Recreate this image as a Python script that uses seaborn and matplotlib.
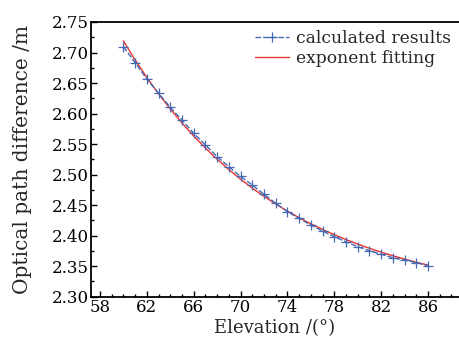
import matplotlib
matplotlib.use("Agg")
import matplotlib.pyplot as plt
import seaborn as sns
import pandas as pd
from matplotlib.ticker import MultipleLocator

elevation = [60, 61, 62, 63, 64, 65, 66, 67, 68, 69, 70, 71, 72, 73, 74, 75, 76, 77,
             78, 79, 80, 81, 82, 83, 84, 85, 86]
calculated = [2.7095, 2.6834, 2.6566, 2.6332, 2.6102, 2.5894, 2.5676, 2.5485, 2.5294,
              2.513, 2.497, 2.483, 2.4677, 2.453, 2.4392, 2.4284, 2.4174, 2.4076,
              2.3983, 2.390, 2.3819, 2.3753, 2.3694, 2.3639, 2.3601, 2.3557, 2.3508]
fitting = [2.719, 2.6878, 2.659, 2.6323, 2.6075, 2.5846, 2.5633, 2.5435, 2.5252,
           2.5083, 2.4925, 2.4779, 2.4644, 2.4519, 2.4402, 2.4294, 2.4194, 2.4102,
           2.4016, 2.3936, 2.3862, 2.3793, 2.3730, 2.3671, 2.3616, 2.3565, 2.3518]
x_ticks = [58, 62, 66, 70, 74, 78, 82, 86]
y_ticks = [2.30, 2.35, 2.40, 2.45, 2.50, 2.55, 2.60, 2.65, 2.70, 2.75]

sns.set_theme(style="ticks")
plt.rcParams['font.family'] = ['DejaVu Serif']
plt.rcParams['mathtext.fontset'] = 'dejavuserif'

df = pd.DataFrame({"x": elevation, "calc": calculated, "fit": fitting})

fig = plt.figure(figsize=(4.59, 3.44), dpi=100)
ax = fig.add_axes([91/459, 1 - 296.7/344, 1 - 91/459, (296.7 - 22)/344])

blue = "#4468b4"
red = "#e8352e"
sns.lineplot(data=df, x="x", y="fit", ax=ax, color=red, linewidth=1.0,
             label="exponent fitting", zorder=2)
sns.lineplot(data=df, x="x", y="calc", ax=ax, color=blue, linewidth=1.0,
             linestyle=(0, (4, 1.5)), marker="+", markersize=7, markeredgewidth=0.9,
             markeredgecolor=blue, markerfacecolor=blue,
             label="calculated results", zorder=3)

ax.set_xlim(57.23, 88.65)
ax.set_ylim(2.30, 2.75)
ax.set_xticks(x_ticks)
ax.set_xticklabels([str(v) for v in x_ticks])
ax.set_yticks(y_ticks)
ax.set_yticklabels([f"{v:.2f}" for v in y_ticks])
ax.xaxis.set_minor_locator(MultipleLocator(1))
ax.yaxis.set_minor_locator(MultipleLocator(0.025))
ax.tick_params(which="both", direction="in", top=False, right=False, labelsize=12,
               width=1.0, colors="black", pad=1.5)
ax.tick_params(which="major", length=4.5)
ax.tick_params(which="minor", length=2.5)
for s in ["left", "bottom", "top"]:
    ax.spines[s].set_linewidth(1.3)
    ax.spines[s].set_color("black")
ax.spines["right"].set_visible(False)

ax.set_xlabel("Elevation /(°)", fontsize=13, labelpad=2.5)
ax.set_ylabel("Optical path difference /m", fontsize=14.5, labelpad=14)

handles, labels = ax.get_legend_handles_labels()
order = [labels.index("calculated results"), labels.index("exponent fitting")]
leg = ax.legend([handles[i] for i in order], [labels[i] for i in order],
                loc="upper right", frameon=False, fontsize=12.3, handlelength=2.0,
                handletextpad=0.4, borderaxespad=0.15, labelspacing=0.2,
                borderpad=0.3, bbox_to_anchor=(1.0, 1.0))

fig.savefig("out.png", dpi=100)
